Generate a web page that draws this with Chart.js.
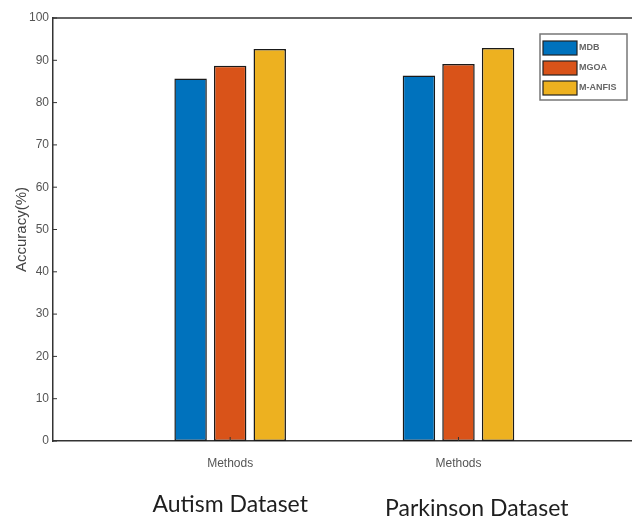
<!DOCTYPE html>
<html>
<head>
<meta charset="utf-8">
<script src="https://cdn.jsdelivr.net/npm/chart.js@4.4.1/dist/chart.umd.min.js"></script>
<style>
  body { margin: 0; background: #fff; }
</style>
</head>
<body>
<canvas id="myChart" width="632" height="521"></canvas>
<script>
// data
const groupPositions = [1, 2];
const groupNames = ['Autism Dataset', 'Parkinson Dataset'];
const groupNamePositions = [1.0, 2.08];
const methods = ['MDB', 'MGOA', 'M-ANFIS'];
const mdbValues = [85.7, 86.4];
const mgoaValues = [88.7, 89.1];
const manfisValues = [92.7, 92.9];
const xTickLabel = 'Methods';
const yTitle = 'Accuracy(%)';

const colors = ['#0072BD', '#D95319', '#EDB120'];
const seriesValues = [mdbValues, mgoaValues, manfisValues];

const datasets = methods.map((name, i) => ({
    label: name,
    data: groupPositions.map((x, j) => ({ x: x, y: seriesValues[i][j] })),
    backgroundColor: colors[i],
    borderColor: '#1a1a1a',
    borderWidth: 1.5,
    borderSkipped: false,
    categoryPercentage: 0.52,
    barPercentage: 0.82
}));

// top frame line + small inward ticks like the matlab axes
const axesExtras = {
    id: 'axesExtras',
    afterDatasetsDraw(chart) {
        const ctx = chart.ctx;
        const area = chart.chartArea;
        const xs = chart.scales.x, ys = chart.scales.y;
        ctx.save();
        ctx.strokeStyle = '#333';
        ctx.lineWidth = 1.5;
        ctx.beginPath();
        ctx.moveTo(area.left, area.top);
        ctx.lineTo(area.right, area.top);
        ctx.stroke();
        ctx.lineWidth = 1;
        ctx.beginPath();
        ys.ticks.forEach(t => {
            const y = ys.getPixelForValue(t.value);
            ctx.moveTo(area.left, y);
            ctx.lineTo(area.left + 4, y);
        });
        groupPositions.forEach(v => {
            const x = xs.getPixelForValue(v);
            ctx.moveTo(x, area.bottom);
            ctx.lineTo(x, area.bottom - 4);
        });
        ctx.stroke();
        ctx.restore();
    }
};

// boxed legend in the upper right corner
const boxLegend = {
    id: 'boxLegend',
    afterDraw(chart) {
        const ctx = chart.ctx;
        const area = chart.chartArea;
        const left = area.right - 92, top = area.top + 16;
        ctx.save();
        ctx.fillStyle = '#fff';
        ctx.fillRect(left, top, 87, 66);
        ctx.strokeStyle = '#777';
        ctx.lineWidth = 1.5;
        ctx.strokeRect(left, top, 87, 66);
        ctx.font = 'bold 9px "Liberation Sans Narrow", "Liberation Sans", Arial, sans-serif';
        ctx.textBaseline = 'middle';
        chart.data.datasets.forEach((ds, i) => {
            const y = top + 7 + i * 20;
            ctx.fillStyle = ds.backgroundColor;
            ctx.fillRect(left + 3, y, 34, 14);
            ctx.strokeStyle = '#222';
            ctx.lineWidth = 1.2;
            ctx.strokeRect(left + 3, y, 34, 14);
            ctx.fillStyle = '#666';
            ctx.fillText(ds.label, left + 39, y + 7);
        });
        ctx.restore();
    }
};

// dataset names under the axis
const groupLabels = {
    id: 'groupLabels',
    afterDraw(chart) {
        const ctx = chart.ctx;
        const xs = chart.scales.x;
        ctx.save();
        ctx.font = '23px Lato, "Open Sans", sans-serif';
        ctx.fillStyle = '#1e1e1e';
        ctx.textAlign = 'center';
        ctx.textBaseline = 'middle';
        groupNames.forEach((name, i) => {
            ctx.fillText(name, xs.getPixelForValue(groupNamePositions[i]), 505 + i * 4);
        });
        ctx.restore();
    }
};

const ctx = document.getElementById('myChart').getContext('2d');
const myChart = new Chart(ctx, {
    type: 'bar',
    data: { datasets: datasets },
    plugins: [axesExtras, boxLegend, groupLabels],
    options: {
        responsive: false,
        animation: false,
        layout: { padding: { top: 18, right: 0, left: 0, bottom: 0 } },
        plugins: {
            legend: { display: false },
            tooltip: { enabled: false }
        },
        scales: {
            x: {
                type: 'linear',
                offset: false,
                min: 0.224,
                max: 2.76,
                afterBuildTicks: scale => {
                    scale.ticks = groupPositions.map(v => ({ value: v }));
                },
                afterFit: scale => { scale.height = 80; },
                grid: { display: false, drawTicks: false },
                border: { display: true, color: '#333', width: 1.5 },
                ticks: {
                    callback: () => xTickLabel,
                    color: '#555',
                    padding: 15,
                    maxRotation: 0,
                    font: { family: '"Liberation Sans", Arial, sans-serif', size: 12 }
                }
            },
            y: {
                min: 0,
                max: 100,
                afterFit: scale => { scale.width = 53; },
                grid: { display: false, drawTicks: false },
                border: { display: true, color: '#333', width: 1.5 },
                ticks: {
                    stepSize: 10,
                    color: '#555',
                    padding: 4,
                    font: { family: '"Liberation Sans", Arial, sans-serif', size: 12 }
                },
                title: {
                    display: true,
                    text: yTitle,
                    color: '#444',
                    padding: { top: 13, bottom: 0 },
                    font: { family: '"Liberation Sans", Arial, sans-serif', size: 15 }
                }
            }
        }
    }
});
</script>
</body>
</html>
